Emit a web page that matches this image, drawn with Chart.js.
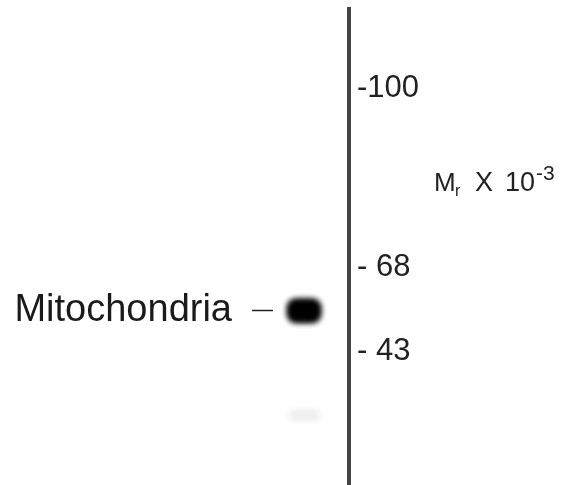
<!DOCTYPE html>
<html>
<head>
<meta charset="utf-8">
<script src="https://cdn.jsdelivr.net/npm/chart.js@4.4.1/dist/chart.umd.min.js"></script>
<style>
  html, body { margin: 0; padding: 0; background: #fff; }
  #wrap { width: 563px; height: 485px; }
</style>
</head>
<body>
<div id="wrap"><canvas id="blot"></canvas></div>
<script>
// Marker ladder (kDa) and how far each ran (relative migration, 0 = top of gel, 100 = bottom)
const markerLabels = ['-100', '- 68', '- 43'];
const markerMigration = [16.6, 54.3, 72.0];

// Bands in the single lane
const bandNames = ['Mitochondria', ''];
const bandMigration = [63.4, 85.3];
const bandIntensity = [1, 0.07];
const laneX = [1, 1];

// blurred blob used as the point style of a band
function makeBand(intensity) {
    const c = document.createElement('canvas');
    const h = intensity > 0.5 ? 22 : 12;
    c.width = 60;
    c.height = 48;
    const g = c.getContext('2d');
    g.filter = 'blur(3px)';
    g.fillStyle = 'rgba(0,0,0,' + intensity + ')';
    g.beginPath();
    g.roundRect(30 - 16, 24 - h / 2, 32, h, 8);
    g.fill();
    if (intensity > 0.5) g.fill();
    return c;
}
const bandImages = bandIntensity.map(makeBand);

// "Mr X 10-3" unit caption beside the ladder
const unitLabel = {
    id: 'unitLabel',
    afterDraw(chart) {
        const ctx = chart.ctx;
        const x = chart.chartArea.right;
        const y = 191;
        ctx.save();
        ctx.fillStyle = '#222';
        ctx.textBaseline = 'alphabetic';
        ctx.font = '26px "Liberation Sans"';
        ctx.fillText('M', x + 85, y);
        ctx.font = '16px "Liberation Sans"';
        ctx.fillText('r', x + 106, y + 5);
        ctx.font = '27px "Liberation Sans"';
        ctx.fillText('X', x + 126, y);
        ctx.fillText('10', x + 156, y);
        ctx.font = '21px "Liberation Sans"';
        ctx.fillText('-3', x + 187, y - 11);
        ctx.restore();
    }
};

const chart = new Chart(document.getElementById('blot'), {
    type: 'scatter',
    data: {
        datasets: [{
            data: laneX.map((x, i) => ({ x: x, y: bandMigration[i] })),
            pointStyle: bandImages,
            yAxisID: 'y'
        }]
    },
    options: {
        responsive: true,
        maintainAspectRatio: false,
        animation: false,
        layout: { autoPadding: false, padding: { top: 9, bottom: 0 } },
        plugins: { legend: { display: false }, tooltip: { enabled: false } },
        scales: {
            x: { type: 'linear', display: false, min: 0, max: 2.45 },
            y: {
                position: 'right',
                min: 0, max: 100, reverse: true,
                grid: { display: false, drawTicks: false },
                border: { display: true, width: 4, color: '#444' },
                afterBuildTicks: s => { s.ticks = markerMigration.map(v => ({ value: v })); },
                afterFit: s => { s.width = 214; s.paddingTop = 0; s.paddingBottom = 0; },
                ticks: {
                    padding: 8,
                    color: '#222',
                    font: { family: 'Liberation Sans', size: 31 },
                    callback: v => markerLabels[markerMigration.indexOf(v)]
                }
            },
            y2: {
                position: 'left',
                min: 0, max: 100, reverse: true,
                grid: { display: true, drawOnChartArea: false, drawTicks: true, tickLength: 21, tickColor: '#222', tickWidth: 1.5 },
                border: { display: false },
                afterBuildTicks: s => {
                    s.ticks = bandMigration.filter((v, i) => bandNames[i]).map(v => ({ value: v }));
                },
                afterFit: s => { s.width = 273; s.paddingTop = 0; s.paddingBottom = 0; },
                ticks: {
                    padding: 20,
                    color: '#1a1a1a',
                    font: { family: 'Liberation Sans', size: 38 },
                    callback: v => bandNames[bandMigration.indexOf(v)]
                }
            }
        }
    },
    plugins: [unitLabel]
});
</script>
</body>
</html>
